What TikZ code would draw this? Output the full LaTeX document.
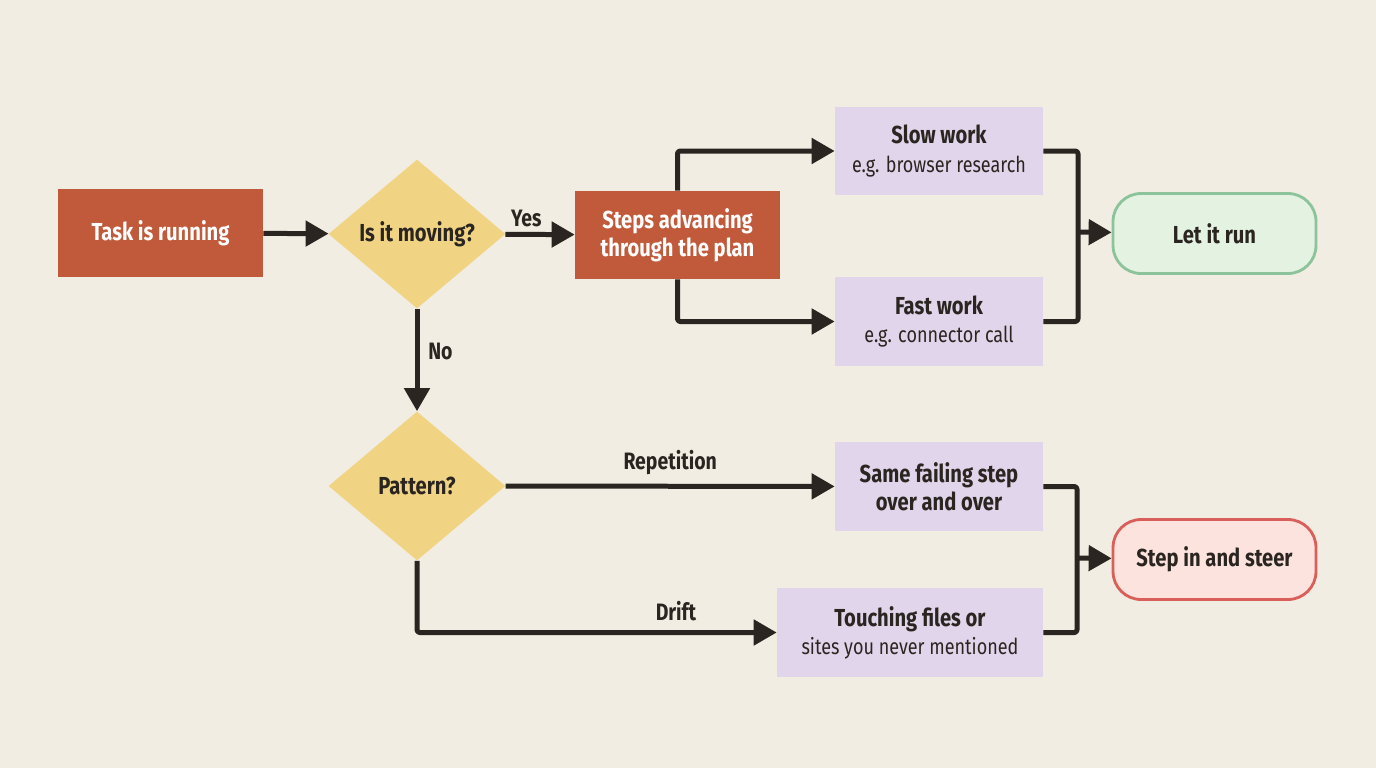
\documentclass[tikz,border=0pt]{standalone}
\usepackage{fontspec}
\setmainfont{Fira Sans}[FakeStretch=0.82]
\usepackage{tikz}
\usetikzlibrary{arrows.meta}
\usetikzlibrary{shapes.geometric}

\definecolor{paper}{HTML}{F2EDE2}
\definecolor{rust}{HTML}{C05A3A}
\definecolor{sand}{HTML}{F0D484}
\definecolor{lilac}{HTML}{E0D5EA}
\definecolor{mint}{HTML}{E3F2E1}
\definecolor{mintline}{HTML}{8DC39A}
\definecolor{blush}{HTML}{FCE3DE}
\definecolor{blushline}{HTML}{D9605A}
\definecolor{ink}{HTML}{2A2520}

\newcommand{\subline}[1]{{\fontsize{12.5}{15}\selectfont\mdseries #1}}

\begin{document}
\begin{tikzpicture}[x=0.02cm, y=-0.02cm,
		state/.style={rectangle, fill=rust, text=white, font=\fontsize{14}{16}\selectfont\bfseries,
			minimum width=4.1cm, minimum height=1.76cm, align=center, inner sep=2pt},
		ask/.style={diamond, fill=sand, text=ink, font=\fontsize{14}{16}\selectfont\bfseries,
			minimum width=3.54cm, minimum height=2.98cm, inner sep=0pt},
		work/.style={rectangle, fill=lilac, text=ink, font=\fontsize{14}{16}\selectfont\bfseries,
			minimum width=4.16cm, minimum height=1.78cm, align=center, inner sep=2pt},
		goal/.style={rectangle, rounded corners=0.56cm, line width=1.6pt, text=ink,
			font=\fontsize{14}{16}\selectfont\bfseries, minimum width=4.06cm, minimum height=1.6cm},
		arr/.style={draw=ink, line width=0.1cm, line join=round, rounded corners=1.5pt,
			-{Triangle[length=0.46cm, width=0.5cm]}},
		link/.style={draw=ink, line width=0.1cm, line join=round, rounded corners=1.5pt},
		tag/.style={text=ink, font=\fontsize{13.5}{16}\selectfont\bfseries, inner sep=3pt}
	]
		\fill[paper] (0,0) rectangle (1376,768);
		\useasboundingbox (0,0) rectangle (1376,768);

		% top row
		\node[state] (task) at (160.5,233) {Task is running};
		\node[ask] (moving) at (417,234) {Is it moving?};
		\node[state] (steps) at (677.5,235) {Steps advancing\\through the plan};
		\node[work] (slow) at (939,151) {Slow work\\\subline{e.g. browser research}};
		\node[work] (fast) at (939,321.5) {Fast work\\\subline{e.g. connector call}};
		\node[goal, fill=mint, draw=mintline] (run) at (1214.5,233.5) {Let it run};
		\coordinate (joinA) at (1078,232);

		% bottom row
		\node[ask] (pattern) at (417,486) {Pattern?};
		\node[work] (same) at (939,486.5) {Same failing step\\over and over};
		\node[work, minimum width=5.32cm] (touch) at (910,632.5) {Touching files or\\\subline{sites you never mentioned}};
		\node[goal, fill=blush, draw=blushline] (steer) at (1214.5,559.5) {Step in and steer};
		\coordinate (joinB) at (1077,558);

		\draw[arr] (task) -- (moving);
		\draw[arr] (moving) -- node[tag, pos=0.3, above] {Yes} (steps);
		\draw[arr] (steps.north) |- (slow.west);
		\draw[arr] (steps.south) |- (fast.west);
		\draw[link] (slow.east) -| (joinA) |- (fast.east);
		\draw[arr] (joinA) -- (run);

		\draw[arr] (moving) -- node[tag, pos=0.42, right, xshift=2pt] {No} (pattern);
		\draw[arr] (pattern) -- node[tag, midway, above, yshift=2pt] {Repetition} (same);
		\draw[arr] (pattern.south) |- node[tag, pos=0.86, above, yshift=2pt] {Drift} (touch.west);
		\draw[link] (same.east) -| (joinB) |- (touch.east);
		\draw[arr] (joinB) -- (steer);
	\end{tikzpicture}
\end{document}
